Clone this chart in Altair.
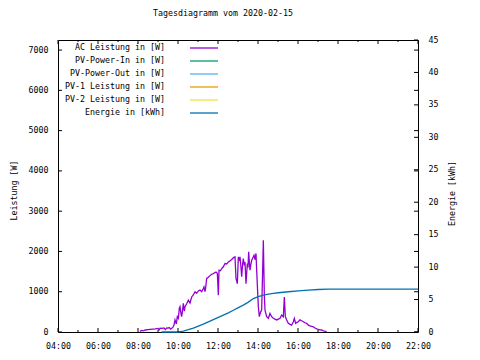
import altair as alt
import pandas as pd

title_text = "Tagesdiagramm vom 2020-02-15"

ac_times = ["08:06","08:10","08:16","08:22","08:30","08:36","08:45","08:52","09:00","09:03",
            "09:06","09:12","09:18","09:22","09:26","09:30","09:34","09:38","09:41","09:45",
            "09:48","09:51","09:55","09:58","10:01","10:04","10:06","10:09","10:11","10:14",
            "10:16","10:19","10:21","10:26","10:31","10:36","10:41","10:46","10:51","10:56",
            "11:01","11:06","11:11","11:16","11:18","11:21","11:23","11:26","11:31","11:36",
            "11:41","11:46","11:50","11:54","11:58","12:01","12:03","12:07","12:11","12:16",
            "12:21","12:26","12:31","12:36","12:41","12:46","12:51","12:54","12:58","13:01",
            "13:04","13:06","13:09","13:11","13:14","13:16","13:19","13:21","13:24","13:28",
            "13:30","13:32","13:34","13:36","13:39","13:41","13:45","13:48","13:51","13:54",
            "13:56","14:01","14:04","14:08","14:11","14:14","14:16","14:19","14:21","14:26",
            "14:31","14:36","14:41","14:46","14:51","14:56","15:01","15:06","15:11","15:16",
            "15:19","15:22","15:26","15:31","15:36","15:41","15:46","15:49","15:53","15:57",
            "16:01","16:06","16:11","16:16","16:21","16:26","16:31","16:36","16:41","16:46",
            "16:51","16:56","17:01","17:06","17:11","17:16","17:21","17:26"]
ac_watts = [10,40,30,50,60,65,70,75,90,50,
            95,90,100,60,100,95,110,70,90,120,
            170,300,200,380,340,590,630,450,380,560,
            710,520,630,700,790,720,870,920,1000,960,
            1020,1040,1000,1080,1120,1000,1100,1330,1360,1400,
            1435,1450,1470,1490,1460,915,1535,1520,1575,1620,
            1700,1690,1740,1765,1800,1840,1865,1330,1200,1865,
            1800,1865,1600,1370,1700,1825,1650,1740,1200,1700,
            1600,1990,1750,1535,1700,1780,1850,1905,1800,1950,
            1535,630,380,500,545,1535,2280,915,545,380,
            340,460,380,340,320,300,320,340,420,380,
            870,380,300,215,190,170,255,340,215,240,
            255,300,280,255,230,215,170,150,140,130,
            100,80,65,55,50,30,20,0]

energy_times = ["09:11","10:01","10:16","10:31","10:46","11:01","11:16","11:31","11:46","12:01",
                "12:16","12:31","12:46","13:01","13:16","13:31","13:46","14:01","14:16","14:31",
                "14:46","15:01","15:31","16:01","16:31","17:01","17:31","22:00"]
energy_kwh = [0,0,0.15,0.35,0.6,0.9,1.2,1.55,1.9,2.25,
              2.6,2.95,3.35,3.75,4.15,4.6,5.15,5.45,5.68,5.82,
              5.95,6.05,6.2,6.35,6.45,6.55,6.6,6.6]

series_names = ["AC Leistung in [W]", "PV-Power-In in [W]", "PV-Power-Out in [W]",
                "PV-1 Leistung in [W]", "PV-2 Leistung in [W]", "Energie in [kWh]"]
series_colors = ["#9400d3", "#009e73", "#56b4e9", "#e69f00", "#f0e442", "#0072b2"]

x_major_hours = [4, 6, 8, 10, 12, 14, 16, 18, 20, 22]
x_minor_hours = [5, 7, 9, 11, 13, 15, 17, 19, 21]
y_ticks = [0, 1000, 2000, 3000, 4000, 5000, 6000, 7000]
y2_ticks = [0, 5, 10, 15, 20, 25, 30, 35, 40, 45]

FONT = "DejaVu Sans Mono"
FS = 8.3
W, H = 360, 292


def to_hours(s):
    h, m = s.split(":")
    return int(h) + int(m) / 60.0


ac_df = pd.DataFrame({"h": [to_hours(t) for t in ac_times], "w": ac_watts})
en_df = pd.DataFrame({"h": [to_hours(t) for t in energy_times], "e": energy_kwh})
leg_df = pd.DataFrame({"name": series_names, "i": list(range(len(series_names)))})

xs = alt.Scale(domain=[4, 22], nice=False, zero=False)
ys = alt.Scale(domain=[0, 7250], nice=False)
y2s = alt.Scale(domain=[0, 45], nice=False)

x_axis = alt.Axis(values=x_major_hours, labelExpr="(datum.value < 10 ? '0' : '') + datum.value + ':00'",
                  tickSize=0, domain=False, grid=False, labelPadding=9, title=None,
                  labelFlush=False, labelOverlap=False,
                  labelFont=FONT, labelFontSize=FS, labelColor="black")


def X():
    return alt.X("h:Q", scale=xs, axis=x_axis)


power = alt.Chart(ac_df).mark_line(color=series_colors[0], strokeWidth=1.3).encode(
    x=X(),
    y=alt.Y("w:Q", scale=ys, axis=alt.Axis(orient="left", values=y_ticks, format="d", tickSize=0, domain=False,
                                           grid=False, labelPadding=10, title="Leistung [W]",
                                           titleX=-44, titleY=150, titleAngle=270,
                                           titleBaseline="middle", labelFlush=False,
                                           labelFont=FONT, labelFontSize=FS, labelColor="black",
                                           titleFont=FONT, titleFontSize=FS, titleFontWeight="normal",
                                           titleColor="black")),
)

energy = alt.Chart(en_df).mark_line(color=series_colors[5], strokeWidth=1.3).encode(
    x=X(),
    y=alt.Y("e:Q", scale=y2s, axis=alt.Axis(orient="right", values=y2_ticks, format="d", tickSize=0, domain=False,
                                            grid=False, labelPadding=10, title="Energie [kWh]",
                                            titleX=34, titleY=153, titleAngle=270,
                                            titleBaseline="middle", labelFlush=False,
                                            labelFont=FONT, labelFontSize=FS, labelColor="black",
                                            titleFont=FONT, titleFontSize=FS, titleFontWeight="normal",
                                            titleColor="black")),
)

xmaj = pd.DataFrame({"h": x_major_hours})
xmin = pd.DataFrame({"h": x_minor_hours})
ytk = pd.DataFrame({"v": y_ticks})
y2tk = pd.DataFrame({"v": y2_ticks})

tick_layers = [
    alt.Chart(xmaj).mark_rule(color="black").encode(x=X(), y=alt.value(H), y2=alt.value(H - 4)),
    alt.Chart(xmin).mark_rule(color="black").encode(x=X(), y=alt.value(H), y2=alt.value(H - 2)),
    alt.Chart(xmaj).mark_rule(color="black").encode(x=X(), y=alt.value(0), y2=alt.value(4)),
    alt.Chart(xmin).mark_rule(color="black").encode(x=X(), y=alt.value(0), y2=alt.value(2)),
    alt.Chart(ytk).mark_rule(color="black").encode(y=alt.Y("v:Q", scale=ys, axis=None), x=alt.value(0), x2=alt.value(4)),
    alt.Chart(ytk).mark_rule(color="black").encode(y=alt.Y("v:Q", scale=ys, axis=None), x=alt.value(W - 4), x2=alt.value(W)),
    alt.Chart(y2tk).mark_rule(color="black").encode(y=alt.Y("v:Q", scale=y2s, axis=None), x=alt.value(W - 4), x2=alt.value(W)),
]

leg_text = alt.Chart(leg_df).transform_calculate(ly="8 + 13 * datum.i").mark_text(
    align="right", baseline="middle", font=FONT, fontSize=FS, color="black"
).encode(x=alt.value(107), y=alt.Y("ly:Q", scale=None, axis=None), text="name:N")

leg_line = alt.Chart(leg_df).transform_calculate(ly="8 + 13 * datum.i").mark_rule(strokeWidth=1.3).encode(
    x=alt.value(132), x2=alt.value(160), y=alt.Y("ly:Q", scale=None, axis=None),
    color=alt.Color("name:N", scale=alt.Scale(domain=series_names, range=series_colors), legend=None),
)

chart = alt.layer(power, energy, *tick_layers, leg_text, leg_line).resolve_scale(
    y="independent"
).properties(
    width=W, height=H,
    title=alt.TitleParams(title_text, anchor="middle", dx=-15, offset=18, font=FONT, fontSize=FS,
                          fontWeight="normal", color="black"),
    autosize=alt.AutoSizeParams(type="none"),
    padding={"left": 50, "top": 32, "right": 54, "bottom": 28},
    background="white",
).configure_view(stroke="black", strokeWidth=1)

chart.save("out.html", embed_options={"renderer": "svg", "actions": False})
